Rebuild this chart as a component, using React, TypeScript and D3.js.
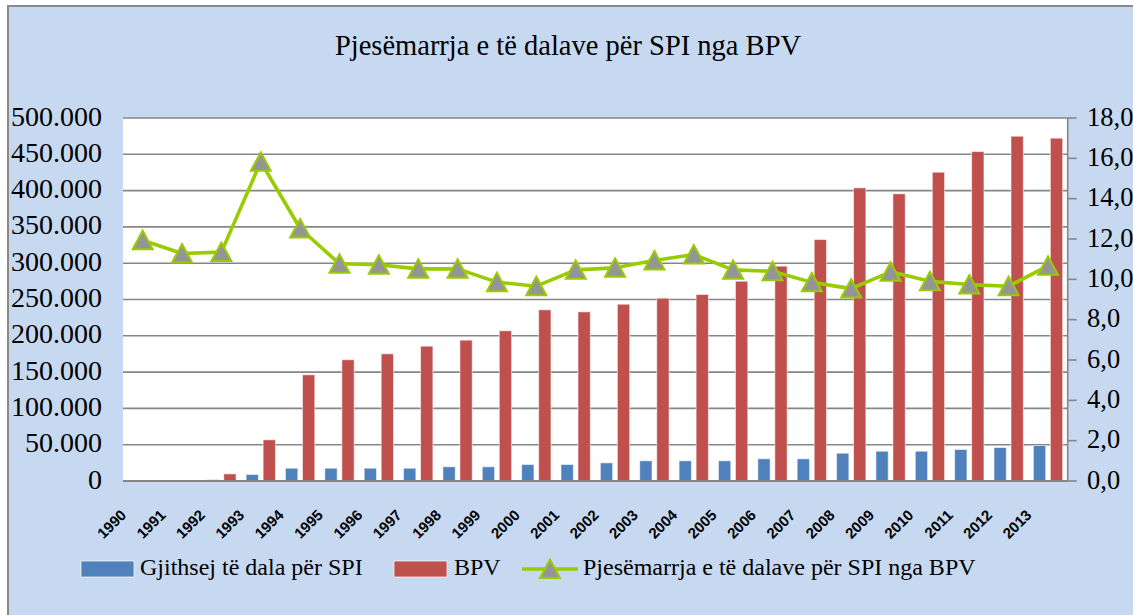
import React from "react";
import * as d3 from "d3";

const years = ["1990","1991","1992","1993","1994","1995","1996","1997","1998","1999","2000","2001","2002","2003","2004","2005","2006","2007","2008","2009","2010","2011","2012","2013"];
const spiValues = [0, 0, 1800, 9000, 17600, 17600, 17600, 17600, 19600, 19600, 22700, 22700, 25000, 27800, 27800, 27800, 30600, 30600, 38300, 41000, 41000, 43400, 46100, 48900];
const bpvValues = [0, 0, 9800, 56700, 146300, 167000, 175200, 185700, 194000, 206900, 235800, 233000, 243500, 251800, 256900, 275200, 295900, 332600, 403800, 395600, 425300, 453800, 474900, 472200];
const shareValues = [11.94, 11.28, 11.35, 15.83, 12.52, 10.77, 10.72, 10.52, 10.52, 9.86, 9.66, 10.47, 10.57, 10.93, 11.23, 10.47, 10.4, 9.85, 9.54, 10.37, 9.9, 9.74, 9.66, 10.67];
const leftTicks = [0, 50000, 100000, 150000, 200000, 250000, 300000, 350000, 400000, 450000, 500000];
const rightTicks = [0, 2, 4, 6, 8, 10, 12, 14, 16, 18];
const seriesKeys = ["spi", "bpv"];
const title = "Pjesëmarrja e të dalave për SPI nga BPV";
const legendLabels = ["Gjithsej të dala për SPI", "BPV", "Pjesëmarrja e të dalave për SPI nga BPV"];

const W = 1133, H = 615;
const plot = { left: 123, right: 1067.7, top: 118, bottom: 481 };
const BLUE = "#4f81bd", RED = "#c0504d", GREEN = "#99cc00", MARK = "#959595";
const GRID = "#868686", BG = "#c6d9f1";
const SERIF = "Liberation Serif";
const SANS = "Liberation Sans";

function trianglePath(cx: number, cy: number) {
  const p = d3.path();
  p.moveTo(cx, cy - 9.5);
  p.lineTo(cx + 10, cy + 9);
  p.lineTo(cx - 10, cy + 9);
  p.closePath();
  return p.toString();
}

export default function App() {
  const x = d3.scaleBand<string>().domain(years).range([plot.left, plot.right]).padding(0);
  const xi = d3.scaleBand<string>().domain(seriesKeys).range([0, x.bandwidth()]).paddingInner(0.276).paddingOuter(0.295);
  const yL = d3.scaleLinear().domain([0, 500000]).range([plot.bottom, plot.top]);
  const yR = d3.scaleLinear().domain([0, 18]).range([plot.bottom, plot.top]);
  const fmtL = (v: number) => (v === 0 ? "0" : d3.format(",")(v).replace(/,/g, "."));
  const fmtR = (v: number) => v.toFixed(1).replace(".", ",");
  const line = d3.line<number>()
    .x((_, i) => (x(years[i]) as number) + x.bandwidth() / 2)
    .y((d) => yR(d));

  const legendY = 569;

  return (
    <svg width={W} height={H} style={{ position: "absolute", left: 0, top: 0 }}>
      <rect x={0} y={0} width={W} height={H} fill="#ffffff" />
      <rect x={8} y={6} width={1140} height={620} fill={BG} stroke="#898989" strokeWidth={2} />
      <text x={568} y={55} textAnchor="middle" fontFamily={SERIF} fontSize={28.5} fill="#000">{title}</text>

      <rect x={plot.left} y={plot.top} width={plot.right - plot.left} height={plot.bottom - plot.top} fill="#ffffff" />
      {leftTicks.map((t) => (
        <line key={"g" + t} x1={plot.left} x2={plot.right} y1={yL(t)} y2={yL(t)} stroke={GRID} strokeWidth={1.6} />
      ))}

      {years.map((yr, i) => (
        <g key={"b" + yr}>
          {spiValues[i] > 0 && (
            <rect x={(x(yr) as number) + (xi("spi") as number)} y={yL(spiValues[i])} width={xi.bandwidth()}
              height={yL(0) - yL(spiValues[i])} fill={BLUE} stroke="#ffffff" strokeOpacity={0.55} strokeWidth={1} />
          )}
          {bpvValues[i] > 0 && (
            <rect x={(x(yr) as number) + (xi("bpv") as number)} y={yL(bpvValues[i])} width={xi.bandwidth()}
              height={yL(0) - yL(bpvValues[i])} fill={RED} stroke="#ffffff" strokeOpacity={0.55} strokeWidth={1} />
          )}
        </g>
      ))}

      <line x1={plot.left} x2={plot.right} y1={plot.bottom} y2={plot.bottom} stroke={GRID} strokeWidth={2} />
      <line x1={plot.right} x2={plot.right} y1={plot.top} y2={plot.bottom} stroke={GRID} strokeWidth={1.6} />
      {rightTicks.map((t) => (
        <line key={"rt" + t} x1={plot.right} x2={plot.right + 9} y1={yR(t)} y2={yR(t)} stroke={GRID} strokeWidth={1.6} />
      ))}

      <path d={line(shareValues) || ""} fill="none" stroke={GREEN} strokeWidth={3.6} strokeLinejoin="round" />
      {shareValues.map((v, i) => (
        <path key={"m" + i} d={trianglePath((x(years[i]) as number) + x.bandwidth() / 2, yR(v))}
          fill={MARK} stroke={GREEN} strokeWidth={2} strokeLinejoin="miter" />
      ))}

      {leftTicks.map((t) => (
        <text key={"lt" + t} x={102} y={yL(t) + 7.5} textAnchor="end" fontFamily={SERIF} fontSize={28} fill="#000">{fmtL(t)}</text>
      ))}
      {rightTicks.map((t) => (
        <text key={"rl" + t} x={1087} y={yR(t) + 7.5} textAnchor="start" fontFamily={SERIF} fontSize={26.5} fill="#000">{fmtR(t)}</text>
      ))}

      {years.map((yr) => (
        <text key={"xl" + yr}
          transform={`translate(${(x(yr) as number) + x.bandwidth() / 2 - 15.5},516) rotate(-45)`}
          textAnchor="end" fontFamily={SANS} fontWeight="bold" fontSize={15} fill="#000">{yr}</text>
      ))}

      <rect x={81} y={legendY - 8} width={53} height={16} fill={BLUE} stroke="#ffffff" strokeOpacity={0.7} strokeWidth={1} />
      <text x={140} y={legendY + 6} fontFamily={SERIF} fontSize={24} fill="#000">{legendLabels[0]}</text>
      <rect x={394} y={legendY - 8} width={53} height={16} fill={RED} stroke="#ffffff" strokeOpacity={0.7} strokeWidth={1} />
      <text x={454} y={legendY + 6} fontFamily={SERIF} fontSize={24} fill="#000">{legendLabels[1]}</text>
      <line x1={522} x2={578} y1={legendY} y2={legendY} stroke={GREEN} strokeWidth={3.6} />
      <path d={trianglePath(550, legendY)} fill={MARK} stroke={GREEN} strokeWidth={2} />
      <text x={583} y={legendY + 6} fontFamily={SERIF} fontSize={24} fill="#000">{legendLabels[2]}</text>
    </svg>
  );
}
